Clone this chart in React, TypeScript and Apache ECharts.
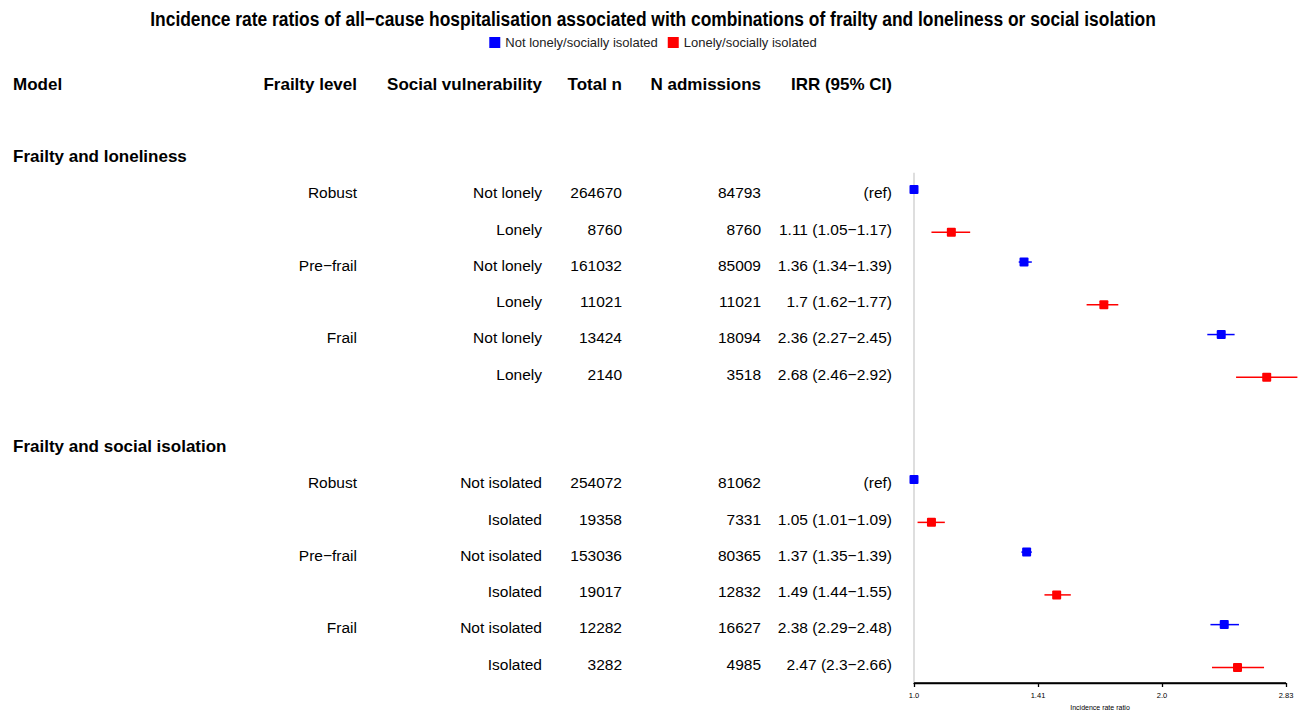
import React, { useEffect, useRef } from "react";
import * as echarts from "echarts";

// ---------- data ----------
const TITLE =
  "Incidence rate ratios of all\u2212cause hospitalisation associated with combinations of frailty and loneliness or social isolation";
const seriesNames = ["Not lonely/socially isolated", "Lonely/socially isolated"];
const headers = ["Model", "Frailty level", "Social vulnerability", "Total n", "N admissions", "IRR (95% CI)"];
const tickLabels = ["1.0", "1.41", "2.0", "2.83"];
const xAxisName = "Incidence rate ratio";

const groupNames = ["Frailty and loneliness", "Frailty and social isolation"];

const frailty1 = ["Robust", "", "Pre\u2212frail", "", "Frail", ""];
const social1 = ["Not lonely", "Lonely", "Not lonely", "Lonely", "Not lonely", "Lonely"];
const totalN1 = [264670, 8760, 161032, 11021, 13424, 2140];
const admissions1 = [84793, 8760, 85009, 11021, 18094, 3518];
const irr1 = [1.0, 1.11, 1.36, 1.7, 2.36, 2.68];
const lower1: (number | null)[] = [null, 1.05, 1.34, 1.62, 2.27, 2.46];
const upper1: (number | null)[] = [null, 1.17, 1.39, 1.77, 2.45, 2.92];
const irrText1 = ["(ref)", "1.11 (1.05\u22121.17)", "1.36 (1.34\u22121.39)", "1.7 (1.62\u22121.77)", "2.36 (2.27\u22122.45)", "2.68 (2.46\u22122.92)"];
const exposed1 = [0, 1, 0, 1, 0, 1];

const frailty2 = ["Robust", "", "Pre\u2212frail", "", "Frail", ""];
const social2 = ["Not isolated", "Isolated", "Not isolated", "Isolated", "Not isolated", "Isolated"];
const totalN2 = [254072, 19358, 153036, 19017, 12282, 3282];
const admissions2 = [81062, 7331, 80365, 12832, 16627, 4985];
const irr2 = [1.0, 1.05, 1.37, 1.49, 2.38, 2.47];
const lower2: (number | null)[] = [null, 1.01, 1.35, 1.44, 2.29, 2.3];
const upper2: (number | null)[] = [null, 1.09, 1.39, 1.55, 2.48, 2.66];
const irrText2 = ["(ref)", "1.05 (1.01\u22121.09)", "1.37 (1.35\u22121.39)", "1.49 (1.44\u22121.55)", "2.38 (2.29\u22122.48)", "2.47 (2.3\u22122.66)"];
const exposed2 = [0, 1, 0, 1, 0, 1];

// ---------- layout/style ----------
const COLORS = ["#0000FF", "#FF0000"];
const FONT = '"Liberation Sans", Arial, Helvetica, sans-serif';
const colX = [13, 357, 542, 622, 761, 892];
const colAlign = ["left", "right", "right", "right", "right", "right"];
const ROW_MAX = 16.52;
const REF_TOP = 2.45;
const OFFSET = [-0.09, 0.09];
// rows are counted from the top; the y axis runs upward from the bottom of the plot
const rowToY = (r: number) => ROW_MAX - r;

type TRow = { row: number; kind: "header" | "group" | "data"; cells: string[] };

function buildTable() {
  const rows: TRow[] = [];
  rows.push({ row: 0, kind: "header", cells: headers });
  const groups = [
    { f: frailty1, s: social1, n: totalN1, a: admissions1, t: irrText1, start: 3, headRow: 2 },
    { f: frailty2, s: social2, n: totalN2, a: admissions2, t: irrText2, start: 11, headRow: 10 },
  ];
  groups.forEach((g, gi) => {
    rows.push({ row: g.headRow, kind: "group", cells: [groupNames[gi]] });
    g.f.forEach((_, i) => {
      rows.push({
        row: g.start + i,
        kind: "data",
        cells: ["", g.f[i], g.s[i], String(g.n[i]), String(g.a[i]), g.t[i]],
      });
    });
  });
  return rows;
}

function buildPoints(which: number) {
  const out: number[][] = [];
  const groups = [
    { irr: irr1, lo: lower1, hi: upper1, ex: exposed1, start: 3 },
    { irr: irr2, lo: lower2, hi: upper2, ex: exposed2, start: 11 },
  ];
  groups.forEach((g) => {
    g.irr.forEach((v, i) => {
      if (g.ex[i] !== which) return;
      const lo = g.lo[i] ?? v;
      const hi = g.hi[i] ?? v;
      out.push([Math.log2(v), rowToY(g.start + i + OFFSET[which]), Math.log2(lo), Math.log2(hi)]);
    });
  });
  return out;
}

export default function App() {
  const ref = useRef<HTMLDivElement>(null);
  useEffect(() => {
    if (!ref.current) return;
    const chart = echarts.init(ref.current, null, { renderer: "svg" });
    const table = buildTable();

    const pointSeries = [0, 1].map((w) => ({
      type: "custom",
      name: seriesNames[w],
      itemStyle: { color: COLORS[w] },
      data: buildPoints(w),
      encode: { x: 0, y: 1 },
      clip: false,
      silent: true,
      z: 3,
      renderItem: (params: any, api: any) => {
        const x = api.value(0);
        const y = api.value(1);
        const lo = api.value(2);
        const hi = api.value(3);
        const p = api.coord([x, y]);
        const a = api.coord([lo, y]);
        const b = api.coord([hi, y]);
        const children: any[] = [];
        if (hi > lo) {
          children.push({
            type: "line",
            shape: { x1: a[0], y1: a[1], x2: b[0], y2: b[1] },
            style: { stroke: COLORS[w], lineWidth: 1.5 },
          });
        }
        const s = 9;
        children.push({
          type: "rect",
          shape: { x: p[0] - s / 2, y: p[1] - s / 2, width: s, height: s, r: 1 },
          style: { fill: COLORS[w] },
        });
        return { type: "group", children };
      },
    }));

    const tableSeries = {
      type: "custom",
      name: "table",
      data: table.map((r) => [0, rowToY(r.row)]),
      encode: { x: 0, y: 1 },
      clip: false,
      silent: true,
      renderItem: (params: any, api: any) => {
        const r = table[params.dataIndex];
        const y = api.coord([0, api.value(1)])[1];
        const children: any[] = [];
        r.cells.forEach((c, ci) => {
          if (!c) return;
          children.push({
            type: "text",
            style: {
              text: c,
              x: colX[ci],
              y,
              align: colAlign[ci],
              verticalAlign: "middle",
              fontFamily: FONT,
              fontSize: r.kind === "data" ? 15.5 : 17,
              fontWeight: r.kind === "data" ? "normal" : "bold",
              fill: "#000",
            },
          });
        });
        return { type: "group", children };
      },
    };

    const refLine = {
      type: "line",
      name: "ref",
      data: [
        [0, rowToY(REF_TOP)],
        [0, rowToY(ROW_MAX)],
      ],
      showSymbol: false,
      symbol: "none",
      silent: true,
      z: 1,
      lineStyle: { color: "#d3d3d3", width: 1.5 },
    };

    const baseLine = {
      type: "line",
      name: "baseline",
      data: tickLabels.map((_, i) => [i * 0.5, 0]),
      showSymbol: false,
      symbol: "none",
      silent: true,
      z: 2,
      lineStyle: { color: "#000", width: 1.3 },
    };

    chart.setOption({
      animation: false,
      backgroundColor: "#fff",
      graphic: [
        {
          type: "text",
          x: 653,
          y: 19,
          scaleX: 0.87,
          silent: true,
          style: {
            text: TITLE,
            x: 0,
            y: 0,
            align: "center",
            verticalAlign: "middle",
            fontFamily: FONT,
            fontSize: 20,
            fontWeight: "bold",
            fill: "#000",
          },
        },
      ],
      legend: {
        data: seriesNames.map((n, i) => ({ name: n, itemStyle: { color: COLORS[i] } })),
        top: 31,
        left: "center",
        icon: "rect",
        itemWidth: 11,
        itemHeight: 11,
        itemGap: 10,
        selectedMode: false,
        textStyle: { fontFamily: FONT, fontSize: 13, color: "#222" },
      },
      grid: {
        left: 914,
        right: 20,
        top: 84,
        bottom: 27,
        containLabel: false,
        outerBoundsMode: "none",
      },
      xAxis: {
        type: "value",
        position: "bottom",
        min: 0,
        max: 1.5,
        interval: 0.5,
        splitLine: { show: false },
        axisLine: { show: true, lineStyle: { color: "#000", width: 1.3 } },
        axisTick: { show: true, length: 4, lineStyle: { color: "#000", width: 1.3 } },
        axisLabel: {
          fontFamily: FONT,
          fontSize: 7.5,
          color: "#000",
          margin: 8,
          formatter: (v: number) => tickLabels[Math.round(v / 0.5)] ?? "",
        },
        name: xAxisName,
        nameLocation: "middle",
        nameGap: 17,
        nameTextStyle: { fontFamily: FONT, fontSize: 7, color: "#000" },
      },
      yAxis: {
        type: "value",
        min: 0,
        max: ROW_MAX,
        show: false,
        splitLine: { show: false },
      },
      series: [refLine, baseLine, tableSeries, ...pointSeries],
    });
    return () => chart.dispose();
  }, []);
  return (
    <div
      ref={ref}
      style={{ position: "fixed", left: 0, top: 0, width: 1306, height: 710 }}
    />
  );
}
